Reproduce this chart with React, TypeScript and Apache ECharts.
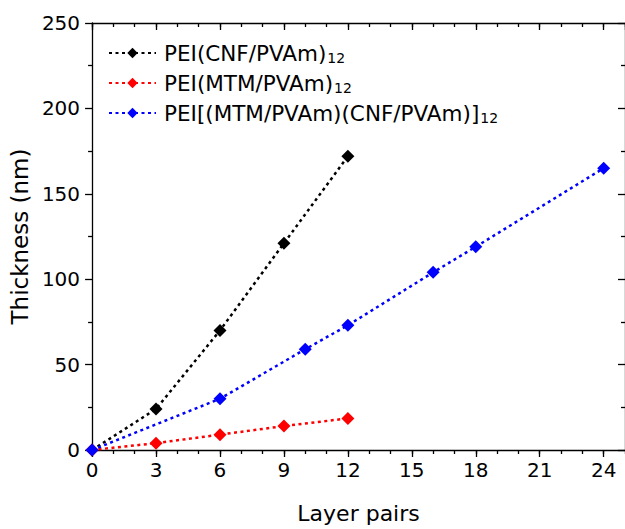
import { useEffect, useRef } from 'react';
import * as echarts from 'echarts';

const seriesNames = ['PEI(CNF/PVAm)', 'PEI(MTM/PVAm)', 'PEI[(MTM/PVAm)(CNF/PVAm)]'];
const seriesColors = ['#000000', '#ff0000', '#0000ff'];
const subscript = '12';

const layerPairsCNF = [0, 3, 6, 9, 12];
const thicknessCNF = [0, 24, 70, 121, 172];

const layerPairsMTM = [0, 3, 6, 9, 12];
const thicknessMTM = [0, 4, 9, 14, 18.5];

const layerPairsMix = [0, 6, 10, 12, 16, 18, 24];
const thicknessMix = [0, 30, 59, 73, 104, 119, 165];

const xName = 'Layer pairs';
const yName = 'Thickness (nm)';

const FONT = '"DejaVu Sans", "Liberation Sans", Arial, sans-serif';

function zip(xs: number[], ys: number[]) {
  return xs.map((x, i) => [x, ys[i]]);
}

export default function App() {
  const ref = useRef<HTMLDivElement>(null);
  useEffect(() => {
    if (!ref.current) return;
    const chart = echarts.init(ref.current, undefined, { renderer: 'svg' });
    const axisLineStyle = { color: '#000', width: 1.3 };
    const xBase = { type: 'value' as const, min: 0, max: 25, splitLine: { show: false } };
    const yBase = { type: 'value' as const, min: 0, max: 250, interval: 50, splitLine: { show: false }, minorSplitLine: { show: false } };
    const datasets = [
      zip(layerPairsCNF, thicknessCNF),
      zip(layerPairsMTM, thicknessMTM),
      zip(layerPairsMix, thicknessMix),
    ];
    chart.setOption({
      animation: false,
      textStyle: { fontFamily: FONT },
      grid: { left: 92, right: -5, top: 23, bottom: 74 },
      legend: {
        orient: 'vertical',
        left: 103,
        top: 36,
        itemWidth: 47,
        itemHeight: 13,
        itemGap: 6,
        data: seriesNames,
        formatter: (name: string) => `{m|${name}}{s|${subscript}}`,
        textStyle: {
          color: '#000',
          fontFamily: FONT,
          padding: [0, 0, 0, 3],
          rich: {
            m: { fontSize: 21.5, lineHeight: 25, color: '#000', fontFamily: FONT },
            s: { fontSize: 14, lineHeight: 15, color: '#000', fontFamily: FONT, padding: [10, 0, 0, 1] },
          },
        },
      },
      xAxis: [
        {
          ...xBase,
          position: 'bottom',
          interval: 3,
          axisLine: { onZero: false, lineStyle: axisLineStyle },
          axisTick: { length: 7, lineStyle: axisLineStyle },
          axisLabel: { fontSize: 20, color: '#000', margin: 10, showMaxLabel: false, fontFamily: FONT },
          name: xName,
          nameLocation: 'middle',
          nameGap: 52,
          nameTextStyle: { fontSize: 22, color: '#000', fontFamily: FONT },
        },
        {
          ...xBase,
          position: 'bottom',
          interval: 1,
          axisLine: { show: false, onZero: false },
          axisTick: { length: 4, lineStyle: axisLineStyle },
          axisLabel: { show: false },
        },
        {
          ...xBase,
          position: 'top',
          interval: 3,
          axisLine: { onZero: false, lineStyle: axisLineStyle },
          axisTick: { inside: true, length: 7, lineStyle: axisLineStyle },
          axisLabel: { show: false },
        },
        {
          ...xBase,
          position: 'top',
          interval: 1,
          axisLine: { show: false, onZero: false },
          axisTick: { inside: true, length: 4, lineStyle: axisLineStyle },
          axisLabel: { show: false },
        },
      ],
      yAxis: [
        {
          ...yBase,
          position: 'left',
          axisLine: { show: true, onZero: false, lineStyle: axisLineStyle },
          axisTick: { show: true, length: 7, lineStyle: axisLineStyle },
          minorTick: { show: true, splitNumber: 2, length: 4, lineStyle: axisLineStyle },
          axisLabel: { fontSize: 20, color: '#000', margin: 12, fontFamily: FONT },
          name: yName,
          nameLocation: 'middle',
          nameGap: 55,
          nameRotate: 90,
          nameTextStyle: { fontSize: 23, color: '#000', fontFamily: FONT },
        },
        {
          ...yBase,
          position: 'right',
          axisLine: { show: true, onZero: false, lineStyle: axisLineStyle },
          axisTick: { show: true, inside: true, length: 7, lineStyle: axisLineStyle },
          minorTick: { show: true, splitNumber: 2, length: 4, lineStyle: axisLineStyle },
          axisLabel: { show: false },
        },
      ],
      series: seriesNames.map((name, i) => ({
        name,
        type: 'line',
        xAxisIndex: 0,
        yAxisIndex: 0,
        data: datasets[i],
        symbol: 'diamond',
        symbolSize: 13,
        z: 2 + i,
        lineStyle: { color: seriesColors[i], width: 2.5, type: [3, 3.5] },
        itemStyle: { color: seriesColors[i] },
      })),
    });
    return () => chart.dispose();
  }, []);
  return <div ref={ref} style={{ position: 'fixed', left: 0, top: 0, width: 625, height: 529, background: '#fff' }} />;
}
